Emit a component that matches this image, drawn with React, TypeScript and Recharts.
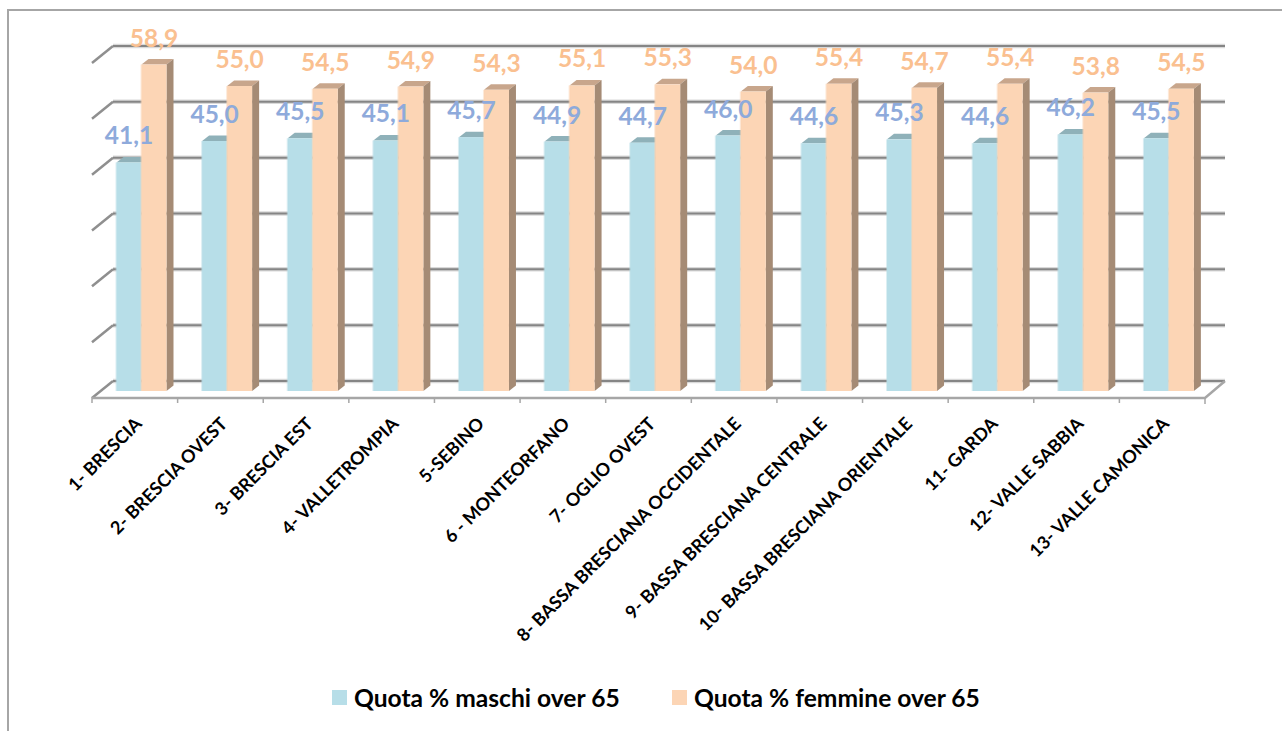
import { Bar, BarChart, CartesianGrid, LabelList, Legend, XAxis, YAxis } from "recharts";

const categories = [
  "1- BRESCIA",
  "2- BRESCIA OVEST",
  "3- BRESCIA EST",
  "4- VALLETROMPIA",
  "5-SEBINO",
  "6 - MONTEORFANO",
  "7- OGLIO OVEST",
  "8- BASSA BRESCIANA OCCIDENTALE",
  "9- BASSA BRESCIANA CENTRALE",
  "10- BASSA BRESCIANA ORIENTALE",
  "11- GARDA",
  "12- VALLE SABBIA",
  "13- VALLE CAMONICA",
];
const maschi = [41.1, 45.0, 45.5, 45.1, 45.7, 44.9, 44.7, 46.0, 44.6, 45.3, 44.6, 46.2, 45.5];
const femmine = [58.9, 55.0, 54.5, 54.9, 54.3, 55.1, 55.3, 54.0, 55.4, 54.7, 55.4, 53.8, 54.5];
const yTicks = [0, 10, 20, 30, 40, 50, 60];

const data = categories.map((name, i) => ({ name, maschi: maschi[i], femmine: femmine[i] }));

const FONT = "Lato, sans-serif";
const LEFT = 92;
const RIGHT = 1205;
const TOP = 58.5;
const BOTTOM = 388.5;
const BAND = (RIGHT - LEFT) / categories.length;
const BAR_SHIFT = 6.5; // bars sit a little into the 3D floor
const GRID = "#8f8f8f";

// faked 3D column: front face, lid and right side
function Column3D({ x, y, width, height, front, lid, side }: any) {
  const left = x + BAR_SHIFT;
  const right = left + width;
  const bottom = y + height + 2.5;
  const dx = 7;
  const dy = 5.5;
  return (
    <g>
      <polygon points={`${left},${y} ${left + dx},${y - dy} ${right + dx},${y - dy} ${right},${y}`} fill={lid} />
      <polygon points={`${right},${y} ${right + dx},${y - dy} ${right + dx},${bottom - dy} ${right},${bottom}`} fill={side} />
      <rect x={left} y={y} width={width} height={bottom - y} fill={front} />
      <rect x={left - 1} y={y} width={1.5} height={bottom - y} fill={front} fillOpacity={0.5} />
    </g>
  );
}

// gridlines live on the back wall, joined to the front by a short diagonal
function WallLine({ y1 }: any) {
  const backY = 46 + ((y1 - TOP) * 335) / (BOTTOM - TOP);
  const frontY = backY + 17;
  const isFloor = Math.abs(y1 - BOTTOM) < 0.5;
  return (
    <g stroke={GRID} strokeWidth={2.5} fill="none">
      <line x1={LEFT + 21} y1={backY} x2={RIGHT + 20} y2={backY} stroke="#d9d9d9" strokeWidth={4.5} />
      <line x1={LEFT + 21} y1={backY} x2={RIGHT + 20} y2={backY} stroke="#858585" strokeWidth={2} />
      <line x1={LEFT + 21} y1={backY} x2={LEFT} y2={frontY} />
      {isFloor && (
        <polyline points={`${LEFT},${frontY} ${RIGHT},${frontY} ${RIGHT + 20},${backY}`} stroke="#a6a6a6" />
      )}
      {isFloor && <line x1={RIGHT} y1={frontY} x2={RIGHT} y2={frontY + 6} stroke="#a6a6a6" strokeWidth={1.5} />}
    </g>
  );
}

function CategoryTick({ x, payload }: any) {
  const tickX = x - BAND / 2;
  return (
    <g>
      <line x1={tickX} y1={397} x2={tickX} y2={403} stroke="#a6a6a6" strokeWidth={1.5} />
      <text
        x={x + 8}
        y={425}
        transform={`rotate(-45 ${x + 8} 425)`}
        textAnchor="end"
        fontFamily={FONT}
        fontWeight={700}
        fontSize={18}
        fill="#000000"
      >
        {payload.value}
      </text>
    </g>
  );
}

function valueLabel(color: string) {
  return ({ x, y, width, value }: any) => (
    <text
      x={x + BAR_SHIFT + width / 2}
      y={y - 18}
      textAnchor="middle"
      fontFamily={FONT}
      fontWeight={700}
      fontSize={24.5}
      fill={color}
    >
      {Number(value).toFixed(1).replace(".", ",")}
    </text>
  );
}

function LegendRow() {
  const items = [
    { label: "Quota % maschi over 65", color: "#b7dee8", left: 332 },
    { label: "Quota % femmine over 65", color: "#fcd5b5", left: 672 },
  ];
  return (
    <div style={{ position: "relative", height: 40, fontFamily: FONT, fontWeight: 700, fontSize: 24.6, color: "#000" }}>
      {items.map((it) => (
        <div key={it.label} style={{ position: "absolute", left: it.left, top: 0, display: "flex", alignItems: "center", height: 34, whiteSpace: "nowrap" }}>
          <span style={{ display: "inline-block", width: 15, height: 15, background: it.color, marginRight: 7 }} />
          {it.label}
        </div>
      ))}
    </div>
  );
}

export default function App() {
  return (
    <div style={{ position: "absolute", left: 0, top: 0, width: 1282, height: 731, background: "#fff", overflow: "hidden" }}>
      <div style={{ position: "absolute", left: 7, top: 9, right: 0, bottom: 0, borderLeft: "2px solid #a6a6a6", borderTop: "2px solid #a6a6a6" }} />
      <BarChart
        width={1282}
        height={731}
        data={data}
        barGap={0}
        barSize={25}
        margin={{ top: TOP, right: 1282 - RIGHT, left: LEFT, bottom: 0 }}
      >
        <CartesianGrid vertical={false} horizontal={<WallLine />} />
        <XAxis dataKey="name" axisLine={false} tickLine={false} interval={0} tick={<CategoryTick />} height={731 - BOTTOM} />
        <YAxis hide domain={[0, 60]} ticks={yTicks} width={0} />
        <Legend verticalAlign="middle" wrapperStyle={{ top: 680, left: 0, width: 1282 }} content={<LegendRow />} />
        <Bar
          dataKey="maschi"
          isAnimationActive={false}
          shape={<Column3D front="#b7dee8" lid="#8fb1b9" side="#8fb1b9" />}
        >
          <LabelList dataKey="maschi" content={valueLabel("#8eaadb")} />
        </Bar>
        <Bar
          dataKey="femmine"
          isAnimationActive={false}
          shape={<Column3D front="#fcd5b5" lid="#c8a68c" side="#a58b75" />}
        >
          <LabelList dataKey="femmine" content={valueLabel("#fac090")} />
        </Bar>
      </BarChart>
    </div>
  );
}
